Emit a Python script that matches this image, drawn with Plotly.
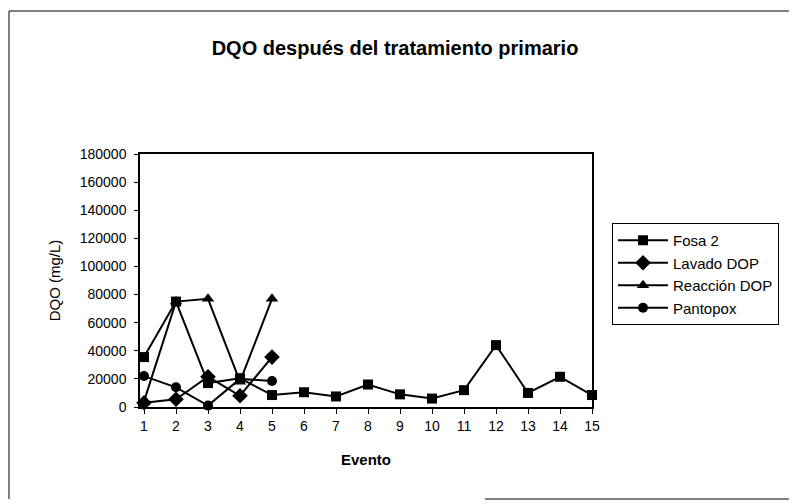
import plotly.graph_objects as go

eventos = list(range(1, 16))
eventos_dop = [1, 2, 3, 4, 5]

fosa2 = [35500, 75000, 17000, 20500, 8500, 10500, 7500, 16000, 9000, 6000, 12000, 44000, 10000, 21500, 8500]
lavado_dop = [3000, 5500, 21500, 8000, 35500]
reaccion_dop = [4000, 75000, 77000, 18000, 77000]
pantopox = [22000, 14000, 1000, 20000, 18500]

series = [
    ("Fosa 2", eventos, fosa2, "square", 10),
    ("Lavado DOP", eventos_dop, lavado_dop, "diamond", 12),
    ("Reacción DOP", eventos_dop, reaccion_dop, "triangle-up", 11),
    ("Pantopox", eventos_dop, pantopox, "circle", 10),
]

FONT = "Liberation Sans, Arial, sans-serif"

fig = go.Figure()
for name, xs, ys, sym, sz in series:
    fig.add_trace(go.Scatter(
        x=xs, y=ys, name=name, mode="lines+markers",
        line=dict(color="black", width=2),
        marker=dict(symbol=sym, size=sz, color="black"),
        cliponaxis=False,
    ))

# The page body has an 8px margin; work in page pixels and convert.
OFF = 8
W, H = 797 - OFF, 504 - OFF
# plot area in page pixels: left 140, right 592, top 154, bottom 407
L, R, T, B = 140 - OFF, 592 - OFF, 154 - OFF, 407 - OFF
pw, ph = R - L, B - T

def px(x):
    return (x - OFF - L) / pw

def py(y):
    return (B - (y - OFF)) / ph

fig.update_layout(
    width=W, height=H,
    margin=dict(l=L, r=W - R, t=T, b=H - B),
    paper_bgcolor="white", plot_bgcolor="white",
    font=dict(family=FONT, color="black", size=14),
    title=dict(text="<b>DQO después del tratamiento primario</b>",
               x=(395 - OFF) / W, xanchor="center", y=1 - (48 - OFF) / H, yanchor="middle",
               font=dict(size=20, family=FONT, color="black")),
    xaxis=dict(
        range=[0.875, 15], tickmode="array", tickvals=eventos,
        ticktext=[str(e) for e in eventos],
        showline=True, linecolor="black", linewidth=1.5, mirror=True,
        ticks="outside", ticklen=5, tickcolor="black",
        showgrid=False, zeroline=False,
        tickfont=dict(size=14, family=FONT),
        title=dict(text="<b>Evento</b>", font=dict(size=15, family=FONT), standoff=22),
    ),
    yaxis=dict(
        range=[0, 180000], dtick=20000, tickformat="d",
        showline=True, linecolor="black", linewidth=1.5, mirror=True,
        ticks="outside", ticklen=4, tickcolor="black",
        showgrid=False, zeroline=False,
        ticklabelstandoff=5,
        tickfont=dict(size=14, family=FONT),
        title=dict(text="DQO (mg/L)", font=dict(size=15, family=FONT), standoff=15),
    ),
    legend=dict(
        x=px(612), y=py(223), xanchor="left", yanchor="top",
        bordercolor="black", borderwidth=1, bgcolor="white",
        font=dict(size=15, family=FONT, color="black"),
        tracegroupgap=0, itemwidth=50,
    ),
    showlegend=True,
)

# outer chart border (partial, as in the scanned chart)
border = dict(type="line", xref="paper", yref="paper", line=dict(color="black", width=1))
fig.add_shape(**border, x0=px(9), y0=py(11), x1=px(797), y1=py(11))
fig.add_shape(**border, x0=px(9), y0=py(11), x1=px(9), y1=py(499))
fig.add_shape(**border, x0=px(485), y0=py(499), x1=px(797), y1=py(499))

fig.write_html("out.html")
